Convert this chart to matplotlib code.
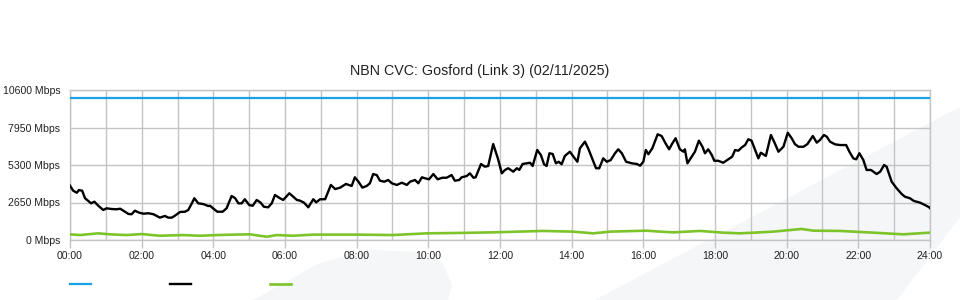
import matplotlib
matplotlib.use("Agg")
import matplotlib.pyplot as plt
from matplotlib.patches import Polygon
from matplotlib.ticker import MultipleLocator, FuncFormatter

plt.rcParams['font.family'] = ['Liberation Sans', 'DejaVu Sans']

title = "NBN CVC: Gosford (Link 3) (02/11/2025)"

# capacity line (blue)
capacity_hours = [0, 24]
capacity_mbps = [10000, 10000]

# traffic (black)
traffic_hours = [
    0.00, 0.09, 0.19, 0.25, 0.34, 0.42, 0.51, 0.59, 0.68, 0.79,
    0.93, 1.02, 1.16, 1.30, 1.40, 1.49, 1.63, 1.72, 1.81, 1.93,
    2.05, 2.19, 2.33, 2.51, 2.65, 2.74, 2.84, 2.93, 3.07, 3.21,
    3.30, 3.40, 3.47, 3.58, 3.72, 3.86, 3.91, 4.00, 4.11, 4.26,
    4.37, 4.51, 4.61, 4.70, 4.79, 4.88, 5.00, 5.10, 5.21, 5.32,
    5.41, 5.53, 5.63, 5.72, 5.86, 5.95, 6.12, 6.23, 6.33, 6.42,
    6.53, 6.65, 6.79, 6.87, 6.98, 7.12, 7.28, 7.40, 7.54, 7.70,
    7.86, 7.95, 8.05, 8.16, 8.28, 8.37, 8.46, 8.56, 8.65, 8.77,
    8.88, 8.98, 9.12, 9.26, 9.40, 9.49, 9.63, 9.72, 9.82, 9.91,
    10.02, 10.14, 10.26, 10.39, 10.51, 10.65, 10.74, 10.86, 10.93, 11.07,
    11.16, 11.26, 11.32, 11.47, 11.58, 11.67, 11.81, 11.94, 12.05, 12.14,
    12.23, 12.37, 12.47, 12.54, 12.63, 12.75, 12.84, 12.91, 13.04, 13.14,
    13.23, 13.30, 13.38, 13.47, 13.56, 13.64, 13.72, 13.81, 13.95, 14.05,
    14.16, 14.23, 14.37, 14.46, 14.59, 14.68, 14.77, 14.88, 14.98, 15.09,
    15.21, 15.30, 15.40, 15.52, 15.68, 15.82, 15.91, 16.00, 16.07, 16.14,
    16.25, 16.40, 16.51, 16.62, 16.72, 16.81, 16.90, 17.02, 17.12, 17.16,
    17.23, 17.35, 17.44, 17.55, 17.65, 17.72, 17.81, 17.91, 17.98, 18.09,
    18.23, 18.37, 18.48, 18.56, 18.65, 18.75, 18.84, 18.93, 19.02, 19.12,
    19.21, 19.28, 19.42, 19.56, 19.67, 19.77, 19.91, 20.03, 20.14, 20.23,
    20.33, 20.47, 20.58, 20.73, 20.84, 20.93, 21.04, 21.12, 21.21, 21.35,
    21.49, 21.66, 21.75, 21.86, 21.94, 22.03, 22.14, 22.23, 22.35, 22.42,
    22.51, 22.61, 22.72, 22.79, 22.93, 23.07, 23.21, 23.30, 23.44, 23.55,
    23.72, 23.86, 23.98, 24.00,
]
traffic_mbps = [
    3840, 3480, 3340, 3530, 3480, 2950, 2760, 2590, 2710, 2420,
    2120, 2240, 2190, 2170, 2210, 2070, 1840, 1820, 2070, 1930,
    1860, 1890, 1820, 1580, 1700, 1580, 1580, 1720, 1980, 2000,
    2120, 2590, 2950, 2590, 2540, 2400, 2420, 2220, 2000, 2000,
    2240, 3110, 2950, 2590, 2590, 2880, 2470, 2420, 2830, 2640,
    2350, 2310, 2590, 3180, 2950, 2830, 3300, 3060, 2830, 2780,
    2640, 2310, 2880, 2660, 2880, 2880, 3890, 3600, 3700, 3960,
    3820, 4430, 4120, 3700, 3820, 4010, 4660, 4590, 4190, 4120,
    4240, 4010, 3890, 4050, 3890, 4120, 4240, 4010, 4430, 4360,
    4290, 4660, 4290, 4400, 4400, 4590, 4190, 4240, 4430, 4520,
    4710, 4400, 4430, 5370, 5180, 5230, 6780, 5770, 4710, 4950,
    5070, 4830, 5070, 4950, 5370, 5420, 5460, 5230, 6360, 6010,
    5350, 5230, 6130, 6080, 5420, 5530, 5350, 5940, 6240, 5890,
    5530, 6480, 6950, 6480, 5650, 5070, 5070, 5770, 5530, 5650,
    6130, 6410, 6130, 5530, 5420, 5370, 5250, 5530, 6360, 6060,
    6480, 7470, 7350, 6830, 6410, 6830, 7190, 6410, 6240, 6410,
    5420, 5890, 6240, 7020, 6590, 6130, 6410, 6010, 5600, 5600,
    5460, 5700, 5890, 6360, 6310, 6550, 6710, 7120, 7020, 6360,
    5770, 6170, 5940, 7420, 6830, 6240, 6590, 7580, 7190, 6780,
    6590, 6590, 6780, 7350, 6880, 7070, 7420, 7300, 6950, 6760,
    6710, 6710, 6240, 5770, 5700, 6130, 5650, 4950, 4950, 4830,
    4660, 4830, 5300, 5180, 4120, 3650, 3250, 3060, 2950, 2760,
    2640, 2470, 2310, 2250,
]

# upload (green)
upload_hours = [0.0, 0.28, 0.79, 1.12, 1.58, 2.0, 2.51, 3.15, 3.63, 4.09,
                4.56, 5.02, 5.49, 5.77, 6.22, 6.78, 8.0, 9.01, 9.95, 10.88,
                11.8, 13.2, 14.04, 14.6, 15.07, 16.09, 16.47, 16.83, 17.58, 18.22,
                18.7, 19.62, 20.42, 20.74, 21.49, 22.41, 23.25, 24.0]
upload_mbps = [400, 350, 470, 400, 350, 420, 300, 350, 300, 350,
               380, 400, 230, 350, 300, 380, 380, 350, 470, 500,
               540, 640, 590, 470, 590, 660, 590, 540, 640, 520,
               470, 590, 780, 660, 640, 520, 400, 520]

y_ticks = [0, 2650, 5300, 7950, 10600]

fig = plt.figure(figsize=(9.6, 3.0), dpi=100)
fig.patch.set_facecolor('white')

# faint background watermark shapes (pixel coords, y from top)
W, H = 960.0, 300.0
def px(pts):
    return [(x / W, 1 - y / H) for x, y in pts]

wm = '#f5f6f8'
fig.add_artist(Polygon(px([(595, 300), (640, 276), (960, 107), (960, 217), (897, 300)]),
                       closed=True, transform=fig.transFigure, facecolor=wm,
                       edgecolor='none', zorder=-10))
fig.add_artist(Polygon(px([(253, 300), (320, 263), (370, 250), (420, 252), (442, 262),
                           (452, 285), (448, 300)]),
                       closed=True, transform=fig.transFigure, facecolor=wm,
                       edgecolor='none', zorder=-10))

ax = fig.add_axes([70 / W, 60 / H, 860 / W, 150 / H])
ax.set_facecolor('none')

blue = '#1aa1e6'
green = '#7dc42b'
l1, = ax.plot(capacity_hours, capacity_mbps, color=blue, lw=1.6, zorder=3)
l2, = ax.plot(traffic_hours, traffic_mbps, color='black', lw=1.7, zorder=4)
l3, = ax.plot(upload_hours, upload_mbps, color=green, lw=1.9, zorder=3)

ax.set_xlim(0, 24)
ax.set_ylim(0, 10600)
ax.set_yticks(y_ticks)
ax.yaxis.set_major_formatter(FuncFormatter(lambda v, p: f"{int(v)} Mbps"))
ax.xaxis.set_major_locator(MultipleLocator(2))
ax.xaxis.set_minor_locator(MultipleLocator(1))
ax.xaxis.set_major_formatter(FuncFormatter(lambda v, p: f"{int(v):02d}:00"))

grid_c = '#c4c4c4'
ax.grid(True, which='both', axis='x', color=grid_c, lw=1)
ax.grid(True, which='major', axis='y', color=grid_c, lw=1)
for s in ax.spines.values():
    s.set_color(grid_c)
    s.set_linewidth(1)

ax.tick_params(axis='x', which='major', length=6, color=grid_c, width=1,
               labelsize=7.6, pad=2, labelcolor='#222222')
ax.tick_params(axis='x', which='minor', length=0)
ax.tick_params(axis='y', length=0, labelsize=7.6, pad=7, labelcolor='#222222')

fig.text(0.5, 1 - 71 / H, title, fontsize=10.3, ha='center', va='center',
         color='#222222')

ax.legend([l1, l2, l3], ['', '', ''], ncol=3, frameon=False,
          loc='center left', bbox_to_anchor=(70 / W, 15 / H),
          bbox_transform=fig.transFigure, borderpad=0, borderaxespad=0,
          handlelength=1.9, handletextpad=0, columnspacing=7.1, fontsize=8)

fig.savefig('out.png', dpi=100)
